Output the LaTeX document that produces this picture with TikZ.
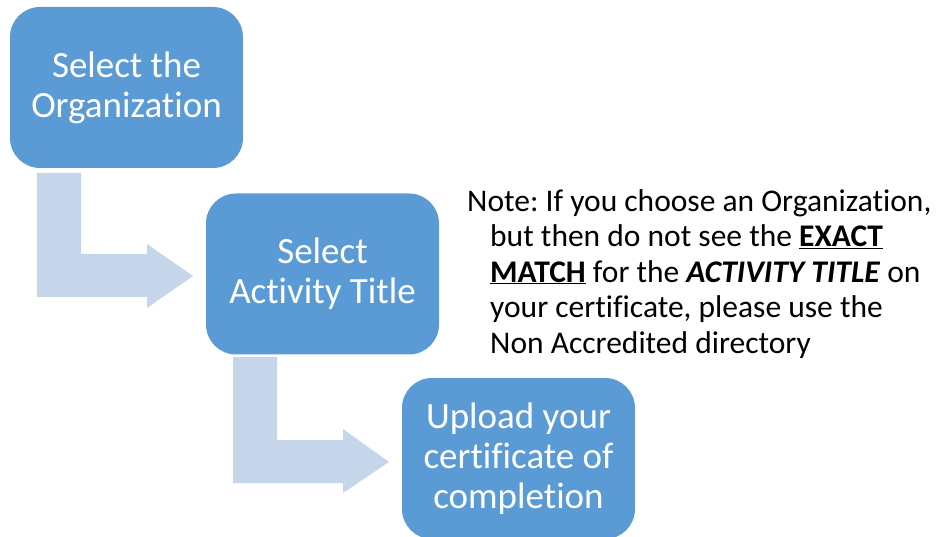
\documentclass[tikz,border=0pt]{standalone}
\usepackage{fontspec}
\setmainfont{Carlito}[RawFeature=-liga]
\definecolor{boxblue}{HTML}{5B9BD5}
\definecolor{arrowblue}{HTML}{C5D5EA}
\frenchspacing
\begin{document}
\begin{tikzpicture}[x=1pt,y=-1pt,
  stepbox/.style={fill=boxblue, draw=none, rounded corners=30pt, minimum width=233pt, minimum height=161pt, text=white, align=center, inner sep=0pt, font=\fontsize{37}{40}\selectfont},
  bentarrow/.style={fill=arrowblue, draw=none}]
\useasboundingbox (0,0) rectangle (940,537);
\begin{scope}
\clip (0,0) rectangle (940,537);
% bent arrows
\fill[bentarrow] (37,173) -- (81,173) -- (81,254) -- (147,254) -- (147,244) -- (193,276) -- (147,308) -- (147,297) -- (37,297) -- cycle;
\fill[bentarrow] (233,357) -- (277,357) -- (277,440) -- (343,440) -- (343,429) -- (389,462) -- (343,493) -- (343,483) -- (233,483) -- cycle;
% boxes
\node[stepbox] (org) at (126.5,87.5) {Select the\\Organization};
\node[stepbox] (act) at (322.5,274) {Select\\Activity Title};
\node[stepbox] (upl) at (518.5,458.5) {Upload your\\certificate of\\completion};
\end{scope}
% note
\node[anchor=base west, align=left, inner sep=0pt, font=\fontsize{31.5}{35.5}\selectfont] (note) at (467,353)
{Note: If you choose an Organization,\\
\hspace*{23pt}but then do not see the \underline{\textbf{EXACT}}\\
\hspace*{23pt}\underline{\textbf{MATCH}} for the \textbf{\textit{ACTIVITY TITLE}} on\\
\hspace*{23pt}your certificate, please use the\\
\hspace*{23pt}Non Accredited directory};
\end{tikzpicture}
\end{document}
